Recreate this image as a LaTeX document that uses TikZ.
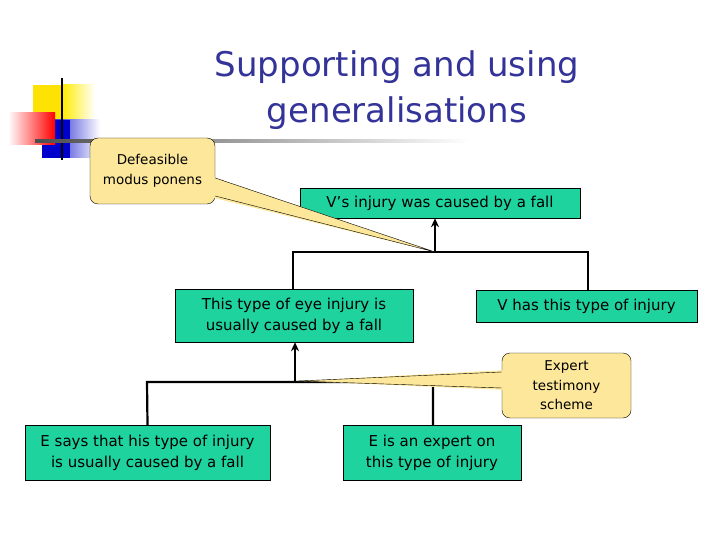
\documentclass[tikz,border=0pt]{standalone}
\usepackage{fontspec}
\setmainfont{DejaVu Sans}
\usetikzlibrary{arrows.meta}
\definecolor{boxg}{HTML}{1FD39F}
\definecolor{callf}{HTML}{FCE79A}
\definecolor{titleb}{HTML}{333399}
\begin{document}
\begin{tikzpicture}[x=1pt,y=-1pt,
  gbox/.style={draw=black,fill=boxg,inner sep=0pt,align=center,font=\fontsize{15}{21}\selectfont},
  callout/.style={draw=black,fill=callf,rounded corners=8pt,align=center,font=\fontsize{13.5}{19.5}\selectfont},
  conn/.style={line width=2.2pt},
  arr/.style={line width=2.2pt,-{Stealth[length=9pt,width=8pt]}}]
\useasboundingbox (0,0) rectangle (720,540);
% decoration
\fill[yellow!85!orange] (33,85) rectangle (85,135);
\shade[left color=yellow!85!orange,right color=white] (62,85) rectangle (95,135);
\shade[left color=blue!80!black,right color=white] (42,120) rectangle (100,158);
\fill[blue!80!black] (42,120) rectangle (70,158);
\shade[left color=white,right color=red] (8,113) rectangle (55,145);
\draw[line width=1.3pt] (62,78) -- (62,160);
\shade[left color=black!70,right color=white] (35,140) rectangle (470,142.5);
% title
\node[text=titleb,font=\fontsize{34}{46}\selectfont,align=center] (title) at (397,90) {Supporting and using\\generalisations};
% boxes
\node[gbox,minimum width=280,minimum height=30] (top) at (440,203) {V’s injury was caused by a fall};
\node[gbox,minimum width=238,minimum height=53] (ml) at (294,315.5) {This type of eye injury is\\usually caused by a fall};
\node[gbox,minimum width=221,minimum height=32] (mr) at (586.5,306) {V has this type of injury};
\node[gbox,minimum width=245,minimum height=55] (bl) at (147.5,452.5) {E says that his type of injury\\is usually caused by a fall};
\node[gbox,minimum width=178,minimum height=55] (br) at (432,452.5) {E is an expert on\\this type of injury};
% tree 1
\coordinate (j1) at (435,252);
\draw[conn] (ml.north -| 293,0) -- (293,252) -- (588,252) -- (mr.north -| 588,0);
\draw[arr] (j1) -- (top.south -| j1);
% tree 2
\coordinate (j2) at (295,382);
\draw[conn] (bl.north) -- (147,382) -- (433,382) -- (br.north -| 433,0);
\draw[arr] (j2) -- (ml.south -| j2);
% callouts
\node[callout,minimum width=125,minimum height=66] (c1) at (152.5,171) {Defeasible\\modus ponens};
\fill[callf] (210,176) -- (j1) -- (210,197) -- cycle;
\draw (c1.east |- 0,178) -- (j1) -- (c1.east |- 0,196);
\node[callout,minimum width=129,minimum height=65] (c2) at (566.5,385.5) {Expert\\testimony\\scheme};
\fill[callf] (507,370) -- (298,381) -- (507,390) -- cycle;
\draw (c2.west |- 0,372) -- (298,381) -- (c2.west |- 0,388);
\end{tikzpicture}
\end{document}
